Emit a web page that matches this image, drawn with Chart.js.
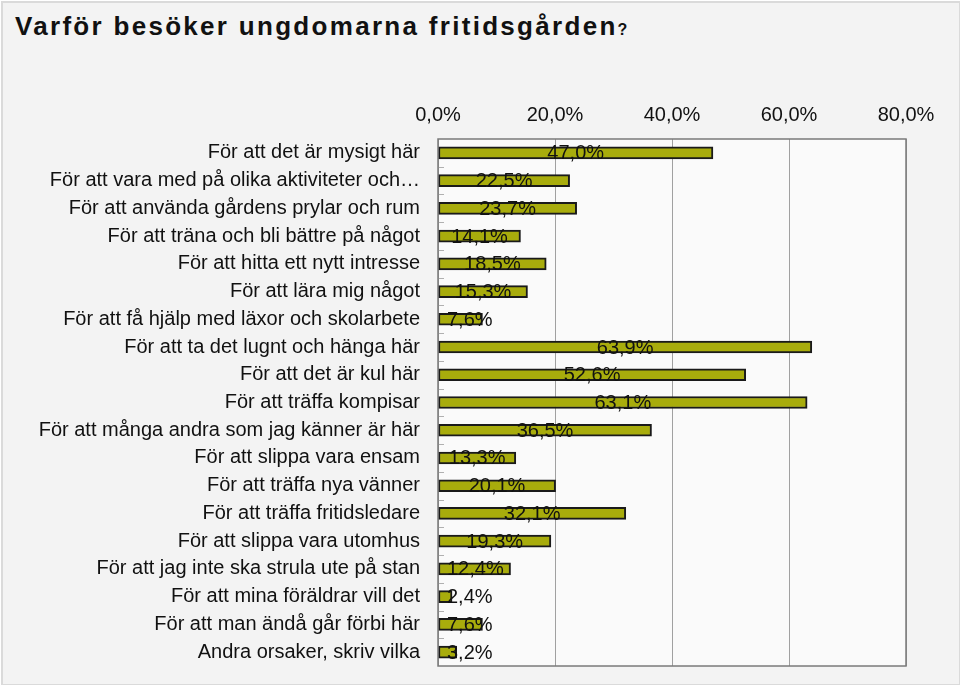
<!DOCTYPE html>
<html>
<head>
<meta charset="utf-8">
<script src="https://cdn.jsdelivr.net/npm/chart.js@4/dist/chart.umd.min.js"></script>
<style>
  body { margin: 0; background: #fff; }
  #frame { position: absolute; left: 1px; top: 1px; width: 956px; height: 681px;
           border: 2px solid #dadada; background: #f3f3f3; }
  #title { position: absolute; left: 15px; top: 11px; font-family: "Liberation Sans", Arial, sans-serif;
           font-weight: bold; font-size: 26px; letter-spacing: 2.3px; color: #111; white-space: nowrap; }
  #title small { font-size: 16px; letter-spacing: 0; }
  #wrap { position: absolute; left: 0; top: 0; width: 960px; height: 685px; }
</style>
</head>
<body>
<div id="frame"></div>
<div id="title">Varför besöker ungdomarna fritidsgården<small>?</small></div>
<div id="wrap"><canvas id="reasons" width="960" height="685"></canvas></div>
<script>
const categories = [
  'För att det är mysigt här',
  'För att vara med på olika aktiviteter och…',
  'För att använda gårdens prylar och rum',
  'För att träna och bli bättre på något',
  'För att hitta ett nytt intresse',
  'För att lära mig något',
  'För att få hjälp med läxor och skolarbete',
  'För att ta det lugnt och hänga här',
  'För att det är kul här',
  'För att träffa kompisar',
  'För att många andra som jag känner är här',
  'För att slippa vara ensam',
  'För att träffa nya vänner',
  'För att träffa fritidsledare',
  'För att slippa vara utomhus',
  'För att jag inte ska strula ute på stan',
  'För att mina föräldrar vill det',
  'För att man ändå går förbi här',
  'Andra orsaker, skriv vilka'
];
const shares = [47.0, 22.5, 23.7, 14.1, 18.5, 15.3, 7.6, 63.9, 52.6, 63.1, 36.5, 13.3, 20.1, 32.1, 19.3, 12.4, 2.4, 7.6, 3.2];
const axisTicks = [0, 20, 40, 60, 80];

const FONT = '"Liberation Sans", Arial, sans-serif';

function pct(v) {
  return v.toFixed(1).replace('.', ',') + '%';
}

const plotDeco = {
  id: 'plotDeco',
  beforeDraw(chart) {
    const a = chart.chartArea;
    const ctx = chart.ctx;
    ctx.save();
    ctx.fillStyle = '#fafafa';
    ctx.fillRect(a.left, a.top, a.right - a.left, a.bottom - a.top);
    ctx.restore();
  },
  afterDatasetsDraw(chart) {
    const a = chart.chartArea;
    const ctx = chart.ctx;
    ctx.save();
    // small category ticks inside the plot
    const step = (a.bottom - a.top) / categories.length;
    ctx.strokeStyle = '#b0b0b0';
    ctx.lineWidth = 1;
    for (let i = 1; i < categories.length; i++) {
      const y = Math.round(a.top + i * step) + 0.5;
      ctx.beginPath();
      ctx.moveTo(a.left, y);
      ctx.lineTo(a.left + 6, y);
      ctx.stroke();
    }
    ctx.strokeStyle = '#7a7a7a';
    ctx.lineWidth = 1.5;
    ctx.strokeRect(a.left, a.top, a.right - a.left, a.bottom - a.top);
    // value labels
    ctx.font = '20px ' + FONT;
    ctx.fillStyle = '#111';
    ctx.textAlign = 'center';
    ctx.textBaseline = 'middle';
    const meta = chart.getDatasetMeta(0);
    meta.data.forEach((bar, i) => {
      const txt = pct(shares[i]);
      const w = ctx.measureText(txt).width;
      let x = (bar.base + bar.x) / 2;
      x = Math.max(x, a.left + 9 + w / 2);
      ctx.fillText(txt, x, bar.y + 1);
    });
    ctx.restore();
  }
};

const data = {
  labels: categories,
  datasets: [
    {
      data: shares,
      backgroundColor: '#a8ac0c',
      borderColor: '#1a1a1a',
      borderWidth: 2,
      borderSkipped: false,
      barThickness: 12
    }
  ]
};

const config = {
  type: 'bar',
  data: data,
  options: {
    indexAxis: 'y',
    responsive: false,
    animation: false,
    layout: {
      padding: { left: 0, top: 0, right: 54, bottom: 19 }
    },
    plugins: {
      legend: { display: false },
      tooltip: { enabled: false }
    },
    scales: {
      x: {
        position: 'top',
        min: 0,
        max: 80,
        afterBuildTicks(scale) {
          scale.ticks = axisTicks.map(v => ({ value: v }));
        },
        afterFit(scale) {
          scale.height = 139;
          scale.paddingLeft = 0;
          scale.paddingRight = 0;
        },
        ticks: {
          color: '#111',
          padding: 12,
          font: { size: 20, family: FONT },
          callback: v => pct(v)
        },
        grid: {
          color: '#a0a0a0',
          lineWidth: 1,
          drawTicks: false
        },
        border: { display: false }
      },
      y: {
        afterFit(scale) {
          scale.width = 438;
          scale.paddingTop = 0;
          scale.paddingBottom = 0;
        },
        ticks: {
          color: '#111',
          padding: 18,
          autoSkip: false,
          font: { size: 20, family: FONT }
        },
        grid: { display: false, drawTicks: false },
        border: { display: false }
      }
    }
  },
  plugins: [plotDeco]
};

const ctx = document.getElementById('reasons').getContext('2d');
const chart = new Chart(ctx, config);
</script>
</body>
</html>
